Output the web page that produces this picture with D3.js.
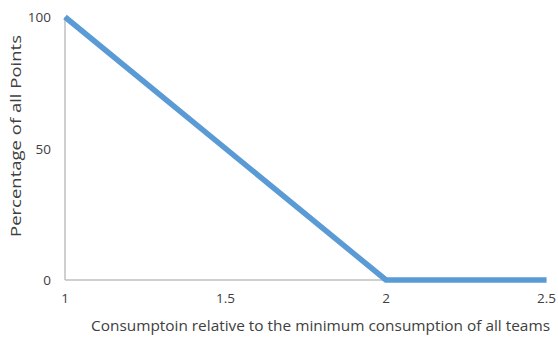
<!DOCTYPE html>
<html><head><meta charset="utf-8">
<script src="https://cdn.jsdelivr.net/npm/d3@7"></script>
<style>body{margin:0;background:#fff}text{font-family:"Open Sans","Liberation Sans",sans-serif;fill:#404040}</style>
</head><body>
<svg id="c" width="558" height="338"></svg>
<script>
const xValues = [1, 2, 2.5];
const yValues = [100, 0, 0];
const xTicks = [1, 1.5, 2, 2.5];
const yTicks = [0, 50, 100];
const xTitle = "Consumptoin relative to the minimum consumption of all teams";
const yTitle = "Percentage of all Points";

const svg = d3.select("#c");
const x = d3.scaleLinear().domain([1, 2.5]).range([65, 546.5]);
const y = d3.scaleLinear().domain([0, 100]).range([280, 17]);

svg.append("line").attr("x1", x(1)).attr("x2", x(1)).attr("y1", y(0)).attr("y2", y(100)).attr("stroke", "#bfbfbf").attr("stroke-width", 1.5);
svg.append("line").attr("x1", x(1)).attr("x2", x(2.5)).attr("y1", y(0)).attr("y2", y(0)).attr("stroke", "#bfbfbf").attr("stroke-width", 1.5);

svg.selectAll(".yt").data(yTicks).enter().append("text").attr("x", 51).attr("y", d => y(d) + 5)
  .attr("text-anchor", "end").attr("font-size", 13.5).text(d => d);
svg.selectAll(".xt").data(xTicks).enter().append("text").attr("x", d => x(d)).attr("y", 303)
  .attr("text-anchor", "middle").attr("font-size", 13.5).text(d => d);

const data = xValues.map((v, i) => [v, yValues[i]]);
svg.append("path").datum(data).attr("fill", "none").attr("stroke", "#5b9bd5").attr("stroke-width", 5.5)
  .attr("stroke-linejoin", "round")
  .attr("d", d3.line().x(d => x(d[0])).y(d => y(d[1])));

svg.append("text").attr("x", 320.5).attr("y", 331).attr("text-anchor", "middle").attr("font-size", 14.5)
  .attr("textLength", 459).attr("lengthAdjust", "spacingAndGlyphs").text(xTitle);
svg.append("text").attr("transform", "translate(21,136) rotate(-90)").attr("text-anchor", "middle").attr("font-size", 14.5)
  .attr("textLength", 202).attr("lengthAdjust", "spacingAndGlyphs").text(yTitle);
</script>
</body></html>
